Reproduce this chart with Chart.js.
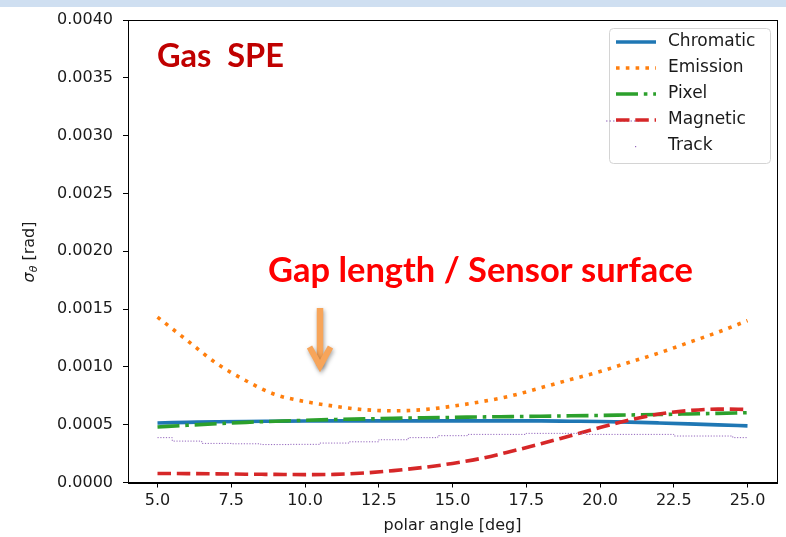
<!DOCTYPE html>
<html>
<head>
<meta charset="utf-8">
<script src="https://cdn.jsdelivr.net/npm/chart.js@4.4.1/dist/chart.umd.min.js"></script>
<style>
  html, body { margin: 0; padding: 0; background: #fff; }
  #wrap { width: 786px; height: 537px; }
</style>
</head>
<body>
<div id="wrap"><canvas id="sigmaChart" width="786" height="537"></canvas></div>
<script>
// polar angle in degrees
const angles = [5, 6, 7, 8, 9, 10, 11, 12, 13, 14, 15, 16, 17, 18, 19, 20, 21, 22, 23, 24, 25];
const xTicks = [5, 7.5, 10, 12.5, 15, 17.5, 20, 22.5, 25];
const yTicks = [0, 0.0005, 0.001, 0.0015, 0.002, 0.0025, 0.003, 0.0035, 0.004];

// sigma_theta [rad] for each contribution
const chromatic = [0.000515, 0.00052, 0.000525, 0.000528, 0.00053, 0.000532, 0.000533, 0.000533, 0.000533, 0.000533, 0.000533,
                   0.000533, 0.000533, 0.000533, 0.00053, 0.000527, 0.000522, 0.000515, 0.000507, 0.000498, 0.00049];
const emission = [0.00143, 0.00123, 0.00103, 0.00088, 0.00076, 0.0007, 0.00066, 0.00063, 0.00062, 0.00063, 0.00066,
                  0.0007, 0.00075, 0.00082, 0.00089, 0.00096, 0.00104, 0.00112, 0.00121, 0.0013, 0.0014];
const pixel = [0.00048, 0.000495, 0.000508, 0.00052, 0.00053, 0.000538, 0.000545, 0.00055, 0.000555, 0.00056, 0.000563,
               0.000567, 0.00057, 0.000573, 0.000577, 0.00058, 0.000584, 0.000588, 0.000593, 0.000598, 0.000604];
const magnetic = [0.000078, 0.000077, 0.000075, 0.000072, 0.00007, 0.000068, 0.00007, 0.000082, 0.000103, 0.00013, 0.000165,
                  0.00021, 0.00027, 0.000335, 0.000405, 0.000475, 0.00054, 0.000592, 0.000622, 0.000635, 0.000632];
const track = [0.000388, 0.000358, 0.000338, 0.000335, 0.000328, 0.00033, 0.000341, 0.000352, 0.00037, 0.000388, 0.000405,
               0.000416, 0.000416, 0.000425, 0.000425, 0.000416, 0.000416, 0.000416, 0.000402, 0.000402, 0.000388];

const toPoints = arr => angles.map((a, i) => ({ x: a, y: arr[i] }));

const TICK_FONT = { family: 'DejaVu Sans', size: 16 };
const TEXT_COLOR = '#1a1a1a';

// white page with the light blue band on top
const pageBackground = {
    id: 'pageBackground',
    beforeDraw(chart) {
        const ctx = chart.ctx;
        ctx.save();
        ctx.fillStyle = '#ffffff';
        ctx.fillRect(0, 0, chart.width, chart.height);
        ctx.fillStyle = '#cfdff1';
        ctx.fillRect(0, 0, chart.width, 7);
        ctx.restore();
    }
};

// matplotlib style box around the axes
const axesFrame = {
    id: 'axesFrame',
    afterDatasetsDraw(chart) {
        const { ctx, chartArea: a } = chart;
        ctx.save();
        ctx.strokeStyle = '#000';
        ctx.lineWidth = 1;
        ctx.strokeRect(Math.round(a.left) + 0.5, Math.round(a.top) + 0.5,
            Math.round(a.right - a.left), Math.round(a.bottom - a.top));
        ctx.restore();
    }
};

function fitFont(ctx, text, family, targetWidth) {
    ctx.font = 'bold 30px "' + family + '"';
    const w = ctx.measureText(text).width;
    return 30 * targetWidth / w;
}

const overlay = {
    id: 'overlay',
    afterDraw(chart) {
        const ctx = chart.ctx;
        ctx.save();

        // y axis title with subscript theta
        ctx.save();
        ctx.translate(30, 252);
        ctx.rotate(-Math.PI / 2);
        ctx.fillStyle = TEXT_COLOR;
        ctx.textBaseline = 'middle';
        ctx.font = 'italic 16px "DejaVu Sans"';
        const wSig = ctx.measureText('σ').width;
        ctx.font = 'italic 11px "DejaVu Sans"';
        const wTh = ctx.measureText('θ').width;
        ctx.font = '16px "DejaVu Sans"';
        const wRad = ctx.measureText(' [rad]').width;
        let x0 = -(wSig + wTh + wRad) / 2;
        ctx.font = 'italic 16px "DejaVu Sans"';
        ctx.fillText('σ', x0, 0);
        ctx.font = 'italic 11px "DejaVu Sans"';
        ctx.fillText('θ', x0 + wSig, 4);
        ctx.font = '16px "DejaVu Sans"';
        ctx.fillText(' [rad]', x0 + wSig + wTh, 0);
        ctx.restore();

        // legend
        const box = { x: 609.5, y: 28.5, w: 161, h: 135, r: 4 };
        ctx.beginPath();
        ctx.roundRect(box.x, box.y, box.w, box.h, box.r);
        ctx.fillStyle = 'rgba(255,255,255,0.85)';
        ctx.fill();
        ctx.strokeStyle = '#d4d4d4';
        ctx.lineWidth = 1;
        ctx.stroke();

        ctx.font = '17px "DejaVu Sans"';
        ctx.textBaseline = 'middle';
        chart.data.datasets.forEach((ds, i) => {
            const y = 42 + i * 26;
            ctx.strokeStyle = ds.borderColor;
            ctx.lineWidth = ds.borderWidth;
            ctx.setLineDash(ds.borderDash || []);
            if (ds.label === 'Track') {
                ctx.fillStyle = ds.borderColor;
                ctx.fillRect(635, y, 1.2, 1.2);
            } else {
                if (ds.label === 'Magnetic') {
                    ctx.save();
                    ctx.strokeStyle = '#9467bd';
                    ctx.lineWidth = 1.2;
                    ctx.setLineDash([1.5, 2]);
                    ctx.beginPath();
                    ctx.moveTo(606, y + 1);
                    ctx.lineTo(641, y + 1);
                    ctx.stroke();
                    ctx.restore();
                }
                ctx.beginPath();
                ctx.moveTo(616, y);
                ctx.lineTo(656, y);
                ctx.stroke();
            }
            ctx.setLineDash([]);
            ctx.fillStyle = TEXT_COLOR;
            ctx.fillText(ds.label, 668, y);
        });

        // annotations on the plot
        ctx.textBaseline = 'alphabetic';
        ctx.fillStyle = '#c00000';
        let size = fitFont(ctx, 'Gas  SPE', 'Lato', 127);
        ctx.font = 'bold ' + size + 'px "Lato"';
        ctx.fillText('Gas  SPE', 157, 67);

        ctx.fillStyle = '#ff0000';
        size = fitFont(ctx, 'Gap length / Sensor surface', 'Lato', 425);
        ctx.font = 'bold ' + size + 'px "Lato"';
        ctx.fillText('Gap length / Sensor surface', 268, 282);

        // orange arrow
        ctx.shadowColor = 'rgba(0,0,0,0.35)';
        ctx.shadowBlur = 4;
        ctx.shadowOffsetX = 1;
        ctx.shadowOffsetY = 2;
        ctx.strokeStyle = '#f7a55a';
        ctx.lineWidth = 6.5;
        ctx.lineCap = 'butt';
        ctx.beginPath();
        ctx.moveTo(320, 308);
        ctx.lineTo(320, 366);
        ctx.stroke();
        ctx.lineWidth = 6;
        ctx.lineJoin = 'miter';
        ctx.beginPath();
        ctx.moveTo(309.5, 347);
        ctx.lineTo(320, 366);
        ctx.lineTo(330.5, 347);
        ctx.stroke();

        ctx.restore();
    }
};

new Chart(document.getElementById('sigmaChart'), {
    type: 'line',
    data: {
        datasets: [
            { label: 'Chromatic', data: toPoints(chromatic), borderColor: '#1f77b4', borderWidth: 3.6, order: 5 },
            { label: 'Emission', data: toPoints(emission), borderColor: '#ff7f0e', borderWidth: 3.6, borderDash: [3.6, 6.2], order: 4 },
            { label: 'Pixel', data: toPoints(pixel), borderColor: '#2ca02c', borderWidth: 3.6, borderDash: [22, 5.8, 3.6, 5.8], order: 3 },
            { label: 'Magnetic', data: toPoints(magnetic), borderColor: '#d62728', borderWidth: 3.6, borderDash: [13.5, 5.8], order: 2 },
            { label: 'Track', data: toPoints(track), borderColor: '#9467bd', borderWidth: 1, borderDash: [1.2, 1.6], stepped: 'middle', order: 1 }
        ]
    },
    options: {
        responsive: false,
        animation: false,
        events: [],
        layout: { padding: { left: 0, right: 9, top: 20, bottom: 0 } },
        elements: {
            point: { radius: 0 },
            line: { cubicInterpolationMode: 'monotone', fill: false, borderCapStyle: 'butt' }
        },
        plugins: {
            legend: { display: false },
            tooltip: { enabled: false }
        },
        scales: {
            x: {
                type: 'linear',
                min: 4,
                max: 26,
                afterBuildTicks: axis => { axis.ticks = xTicks.map(v => ({ value: v })); },
                afterFit: scale => { scale.height = 54.5; },
                grid: { drawOnChartArea: false, tickLength: 5, tickColor: '#000' },
                border: { color: '#000', width: 1 },
                ticks: {
                    font: TICK_FONT, color: TEXT_COLOR, padding: 4, maxRotation: 0,
                    callback: v => v.toFixed(1)
                },
                title: {
                    display: true, text: 'polar angle [deg]', color: TEXT_COLOR,
                    font: { family: 'DejaVu Sans', size: 16 }, padding: { top: 0, bottom: 2 }
                }
            },
            y: {
                type: 'linear',
                min: 0,
                max: 0.004,
                afterBuildTicks: axis => { axis.ticks = yTicks.map(v => ({ value: v })); },
                afterFit: scale => { scale.width = 128; },
                grid: { drawOnChartArea: false, tickLength: 5, tickColor: '#000' },
                border: { color: '#000', width: 1 },
                ticks: {
                    font: TICK_FONT, color: TEXT_COLOR, padding: 10,
                    callback: v => v.toFixed(4)
                }
            }
        }
    },
    plugins: [pageBackground, axesFrame, overlay]
});
</script>
</body>
</html>
